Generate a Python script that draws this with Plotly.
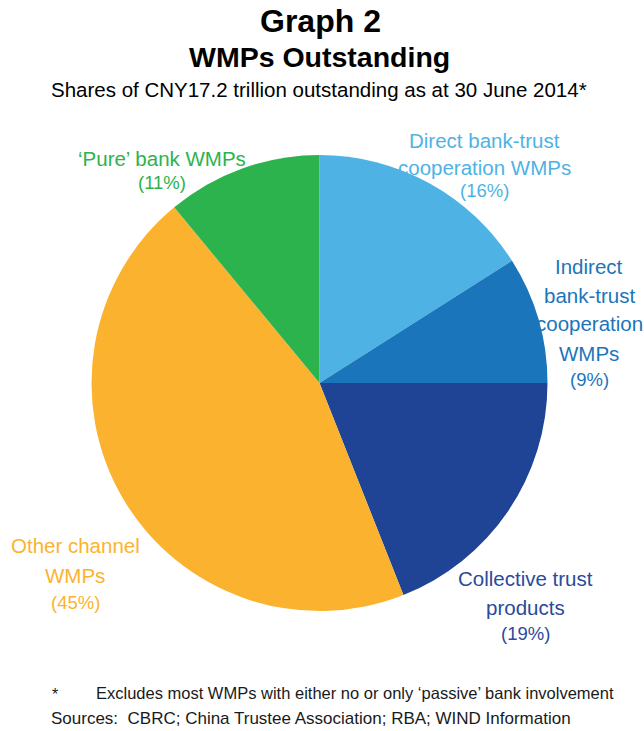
import plotly.graph_objects as go

# Shares of WMPs outstanding, clockwise from 12 o'clock
categories = ["Direct bank-trust cooperation WMPs",
              "Indirect bank-trust cooperation WMPs",
              "Collective trust products",
              "Other channel WMPs",
              "'Pure' bank WMPs"]
shares = [16, 9, 19, 45, 11]
slice_colors = ["#4EB3E4", "#1B75BB", "#1F4496", "#FBB32F", "#2DB34D"]
text_colors = ["#4EB3E4", "#1B75BB", "#2A4A9C", "#FBB32F", "#2DB34D"]

# Label lines for each slice (name lines, then the share)
label_lines = [
    ["Direct bank-trust", "cooperation WMPs"],
    ["Indirect", "bank-trust", "cooperation", "WMPs"],
    ["Collective trust", "products"],
    ["Other channel", "WMPs"],
    ["\u2018Pure\u2019 bank WMPs"],
]
# Anchor (x centre, y of first line) in pixels from top-left, and line spacing
label_anchor = [(484, 140, 27), (589, 266, 29), (525, 578, 29), (75, 545, 30), (162, 158, 27)]

W, H = 644, 731
FONT = "Liberation Sans, Arial, sans-serif"


def px(x, y):
    return x / W, 1 - y / H


fig = go.Figure()
cx, cy, r = 319.5, 383, 228
fig.add_trace(go.Pie(
    labels=categories,
    values=shares,
    sort=False,
    direction="clockwise",
    rotation=0,
    marker=dict(colors=slice_colors, line=dict(width=0)),
    textinfo="none",
    hoverinfo="label+percent",
    showlegend=False,
    domain=dict(x=[(cx - r) / W, (cx + r) / W], y=[1 - (cy + r) / H, 1 - (cy - r) / H]),
))

annotations = []


def add_text(text, x, y, size, color, bold=False, xanchor="center"):
    xx, yy = px(x, y)
    annotations.append(dict(
        text=f"<b>{text}</b>" if bold else text,
        x=xx, y=yy, xref="paper", yref="paper",
        xanchor=xanchor, yanchor="middle", showarrow=False,
        font=dict(family=FONT, size=size, color=color),
    ))


# Titles
add_text("Graph 2", 320, 21, 32, "#000000", bold=True)
add_text("WMPs Outstanding", 319, 57, 28.5, "#000000", bold=True)
add_text("Shares of CNY17.2 trillion outstanding as at 30 June 2014*", 319, 89, 20.5, "#000000")

# Slice labels
for lines, share, (lx, ly, step), col in zip(label_lines, shares, label_anchor, text_colors):
    y = ly
    for line in lines:
        add_text(line, lx, y, 20.5, col)
        y += step
    add_text(f"({share}%)", lx, y - 3, 18.5, col)

# Footnotes
add_text("*", 50, 694, 16, "#1a1a1a", xanchor="left")
add_text("Excludes most WMPs with either no or only \u2018passive\u2019 bank involvement",
         94, 693, 16.5, "#1a1a1a", xanchor="left")
add_text("Sources:\u00a0\u00a0CBRC; China Trustee Association; RBA; WIND Information",
         49, 718, 17, "#1a1a1a", xanchor="left")

fig.update_layout(
    width=W, height=H,
    margin=dict(l=0, r=0, t=0, b=0),
    paper_bgcolor="white",
    plot_bgcolor="white",
    annotations=annotations,
)

fig.write_html("out.html")
